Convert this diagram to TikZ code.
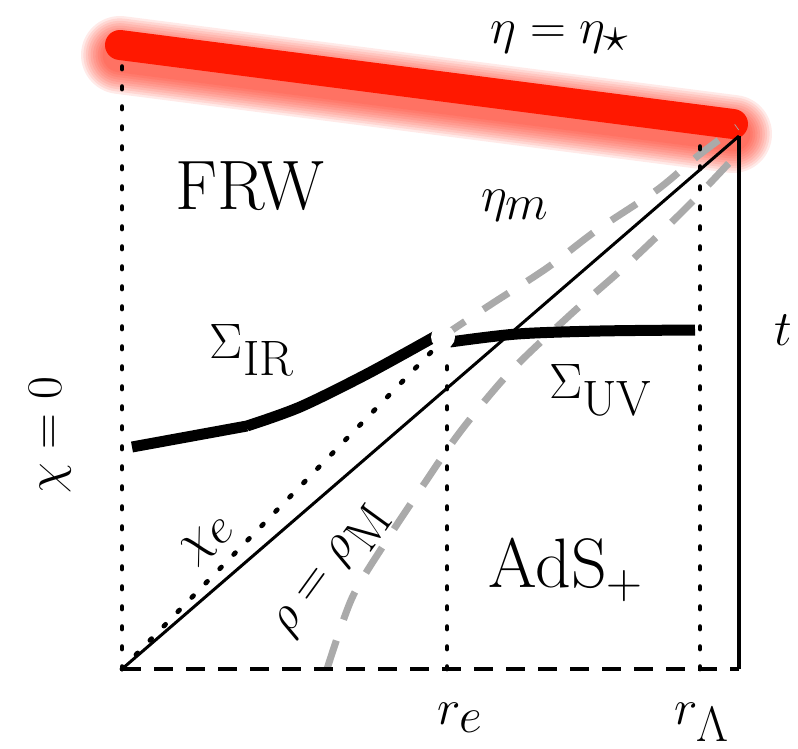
\documentclass[tikz,border=0pt]{standalone}
\usepackage{amsmath,amssymb}
\definecolor{hotred}{RGB}{255,24,0}
\definecolor{dashgray}{RGB}{170,170,170}

\begin{document}
\begin{tikzpicture}[
  x=0.5pt, y=-0.5pt,
  font=\fontsize{35}{42}\selectfont,
  crunch/.style={hotred, line width=15pt, line cap=round},
  glow/.style={hotred, opacity=0.09, line cap=round},
  dots/.style={line width=2.4pt, line cap=round, dash pattern=on 1.2pt off 8.8pt},
  base/.style={line width=1.7pt, dash pattern=on 9.5pt off 6.5pt},
  ray/.style={line width=1.5pt},
  wall/.style={line width=2pt},
  slice/.style={line width=5.5pt},
  flow/.style={dashgray, line width=3.5pt, dash pattern=on 15pt off 11pt},
  lbl/.style={inner sep=0pt}
]
\useasboundingbox (0,0) rectangle (798,749);

\coordinate (o) at (122,669);
\coordinate (tl) at (120,45);
\coordinate (tr) at (733,124);
\coordinate (apex) at (739,136);
\coordinate (axtop) at (122,65);
\coordinate (rbot) at (739,669);
\coordinate (ebot) at (447,669);
\coordinate (etop) at (447,350);
\coordinate (lbot) at (700,669);
\coordinate (ltop) at (700,143);
\coordinate (chie) at (437,346);
\coordinate (rhom) at (327,669);

\foreach \g in {1,...,10}
  \draw[glow, line width={(15+2.4*\g)*1pt}] ([yshift=-5pt]tl) -- ([yshift=-5pt]tr);
\draw[crunch] (tl) -- (tr);

\draw[flow] plot[smooth] coordinates {(rhom) (352,598) (385,543) (420,490) (460,432) (510,372) (570,315) (630,262) (690,204) (743,148)};
\draw[flow] plot[smooth] coordinates {(440,338) (493,303) (547,268) (597,230) (657,190) (699,155) (737,127)};

\draw[dots] (o) -- (axtop);
\draw[dots] (ebot) -- (etop);
\draw[dots] (lbot) -- (ltop);
\draw[dots] (o) -- (chie);
\draw[base] (o) -- (rbot);
\draw[ray] (o) -- (apex);
\draw[wall] (rbot) -- (apex);

\draw[slice] (132,447) -- (247,426) plot[smooth] coordinates {(247,426) (300,407) (367,374) (436,336)};
\draw[slice] plot[smooth] coordinates {(450,342) (517,334) (600,331) (695,330)};

\node[circle, fill=white, minimum size=12pt, inner sep=0pt] (gap) at (443,337) {};

\node[lbl] (etastar) at (560,38) {$\eta=\eta_\star$};
\node[lbl] (frw) at (250,186) {FRW};
\node[lbl] (etam) at (515,206) {$\eta_m$};
\node[lbl] (sigir) at (252,350) {$\Sigma_{\rm IR}$};
\node[lbl] (siguv) at (601,390) {$\Sigma_{\rm UV}$};
\node[lbl] (ads) at (566,570) {AdS$_+$};
\node[lbl] (time) at (783,330) {$t$};
\node[lbl, rotate=90] (chizero) at (50,435) {$\chi=0$};
\node[lbl, rotate=40] (chielbl) at (208,540) {$\chi_e$};
\node[lbl, rotate=54] (rholbl) at (333,572) {$\rho=\rho_{\rm M}$};
\node[lbl] (re) at (460,718) {$r_e$};
\node[lbl] (rlam) at (702,722) {$r_\Lambda$};

\end{tikzpicture}
\end{document}
